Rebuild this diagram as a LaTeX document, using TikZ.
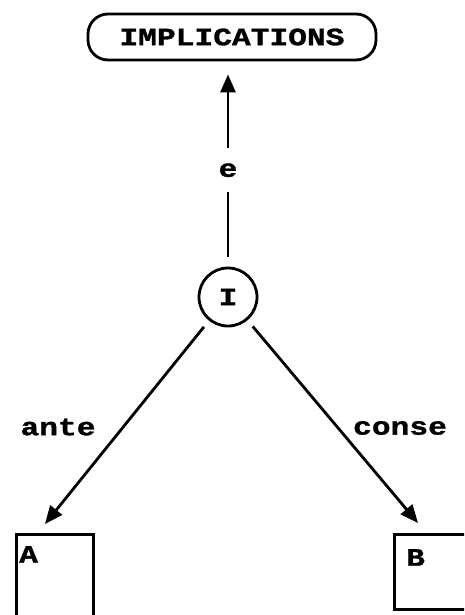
\documentclass[tikz,border=0pt]{standalone}
\usepackage{fontspec}
\setmonofont[FakeStretch=1.25, BoldFeatures={FakeBold=1.2}]{Liberation Mono}
\usetikzlibrary{arrows.meta}
\tikzset{
  titlebox/.style={draw=black, line width=2.8pt, rounded corners=20pt, minimum width=288pt, minimum height=46pt, inner sep=0pt, font=\ttfamily\bfseries\fontsize{25}{30}\selectfont},
  circ/.style={draw=black, circle, line width=2.8pt, minimum size=58pt, inner sep=0pt, font=\ttfamily\bfseries\fontsize{25}{30}\selectfont},
  cell/.style={draw=black, line width=2.8pt, anchor=north west, inner sep=0pt},
  lbl/.style={inner sep=1pt, font=\ttfamily\bfseries\fontsize{25}{30}\selectfont},
  arrow/.style={-{Triangle[length=18pt,width=15pt]}, line width=2.8pt}
}
\begin{document}
\begin{tikzpicture}[x=1pt, y=-1pt]
\useasboundingbox (0,0) rectangle (464,615);
\clip (0,0) rectangle (464,615);
\node[titlebox] (impl) at (232,37) {IMPLICATIONS};
\node[circ] (I) at (228,297) {I};
\draw[arrow, shorten <=10pt, shorten >=13pt] (I) -- node[lbl, pos=0.47, fill=white, minimum height=44pt] (e) {e} (I |- impl.south);
% the two boxes at the bottom
\node[cell, minimum width=77pt, minimum height=100pt] (boxA) at (15,533) {};
\node[lbl, anchor=north west] (A) at ([shift={(3pt,-12pt)}]boxA.north west) {A};
\node[cell, minimum width=90pt, minimum height=75pt] (boxB) at (393,533) {};
\node[lbl, anchor=north west] (B) at ([shift={(12pt,-15pt)}]boxB.north west) {B};
\coordinate (tipA) at (45,524);
\coordinate (tipB) at (418,523);
\draw[arrow, shorten <=8pt] (I) -- (tipA);
\draw[arrow, shorten <=8pt] (I) -- (tipB);
\node[lbl] (ante) at (58,427) {ante};
\node[lbl] (conse) at (400,428) {conse};
\end{tikzpicture}
\end{document}
